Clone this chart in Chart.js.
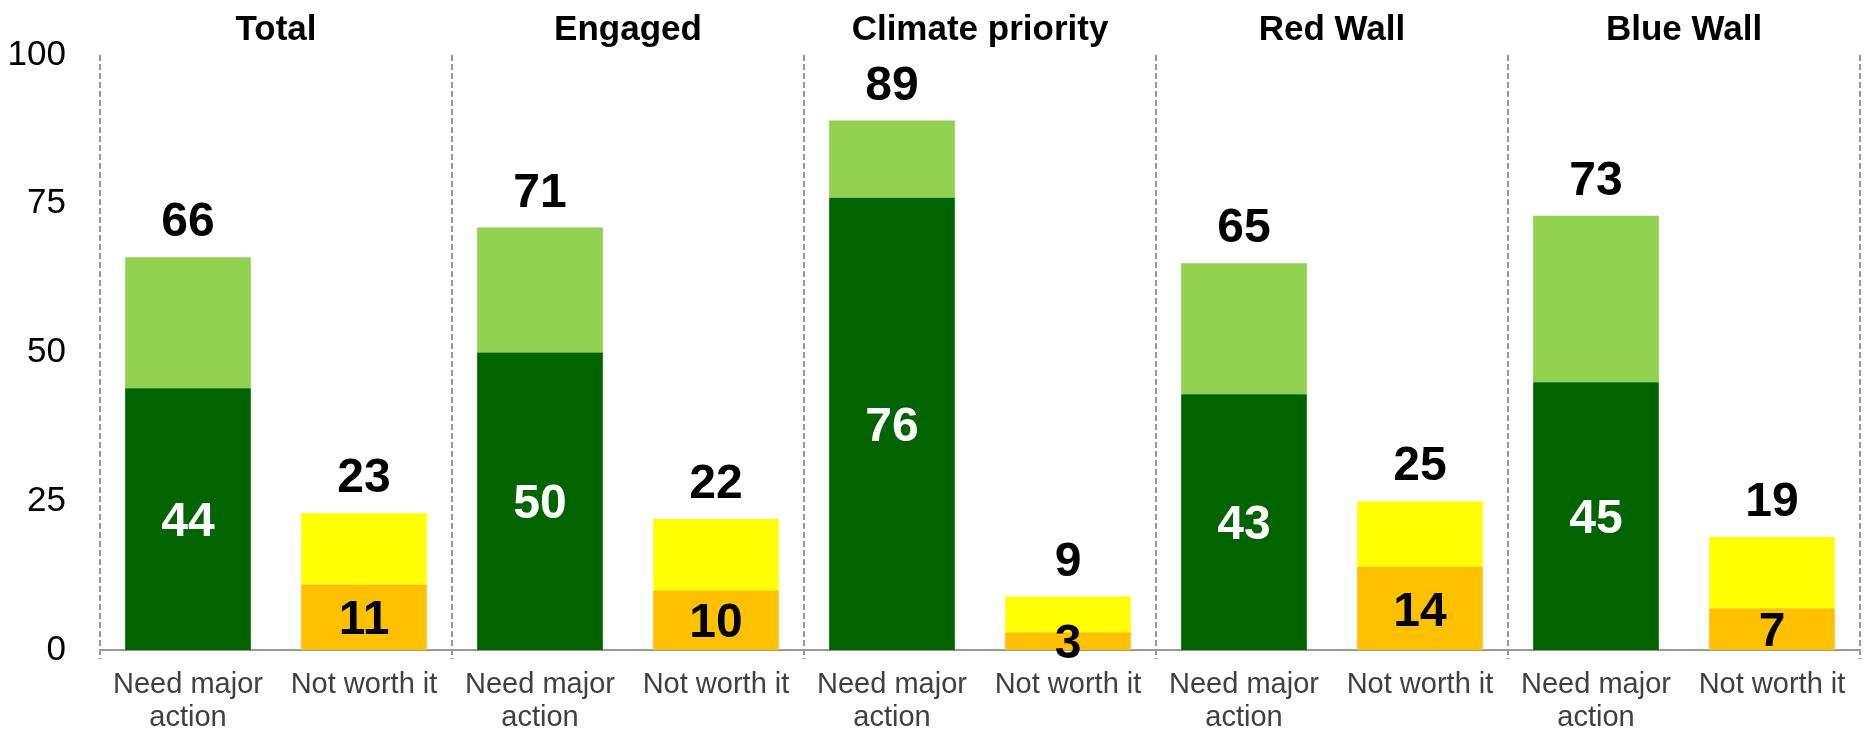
<!DOCTYPE html>
<html>
<head>
<meta charset="utf-8">
<script src="https://cdn.jsdelivr.net/npm/chart.js@4/dist/chart.umd.min.js"></script>
<style>
  html, body { margin: 0; padding: 0; background: #fff; }
  #wrap { width: 1866px; height: 733px; position: relative; }
</style>
</head>
<body>
<div id="wrap"><canvas id="c" width="1866" height="733"></canvas></div>
<script>
// ---- Data ----
const groups = ["Total", "Engaged", "Climate priority", "Red Wall", "Blue Wall"];
const responses = [["Need major", "action"], "Not worth it"];
const needMajorTotal  = [66, 71, 89, 65, 73];
const needMajorStrong = [44, 50, 76, 43, 45];
const notWorthTotal   = [23, 22, 9, 25, 19];
const notWorthStrong  = [11, 10, 3, 14, 7];
const yTicks = [0, 25, 50, 75, 100];

// ---- Build category table ----
const categories = [];
const strongVals = [];
const totalVals = [];
groups.forEach((g, i) => {
  categories.push(responses[0]);
  strongVals.push(needMajorStrong[i]);
  totalVals.push(needMajorTotal[i]);
  categories.push(responses[1]);
  strongVals.push(notWorthStrong[i]);
  totalVals.push(notWorthTotal[i]);
});
const restVals = totalVals.map((t, i) => t - strongVals[i]);

const DARK_GREEN = '#006400', LIGHT_GREEN = '#92D050', ORANGE = '#FFC000', YELLOW = '#FFFF00';
const bottomColors = categories.map((c, i) => i % 2 === 0 ? DARK_GREEN : ORANGE);
const topColors = categories.map((c, i) => i % 2 === 0 ? LIGHT_GREEN : YELLOW);
const FONT = '"Liberation Sans", Arial, Helvetica, sans-serif';

const overlayPlugin = {
  id: 'overlay',
  beforeDatasetsDraw(chart) {
    const ctx = chart.ctx, x = chart.scales.x, area = chart.chartArea;
    const half = (x.getPixelForValue(1) - x.getPixelForValue(0)) / 2;
    ctx.save();
    ctx.strokeStyle = '#999999';
    ctx.lineWidth = 2;
    ctx.setLineDash([6, 3]);
    for (let g = 0; g <= groups.length; g++) {
      const px = Math.round(x.getPixelForValue(g * 2) - half);
      ctx.beginPath();
      ctx.moveTo(px, area.top);
      ctx.lineTo(px, area.bottom + 9);
      ctx.stroke();
    }
    ctx.restore();
  },
  afterDatasetsDraw(chart) {
    const ctx = chart.ctx, x = chart.scales.x;
    const m0 = chart.getDatasetMeta(0), m1 = chart.getDatasetMeta(1);
    ctx.save();
    ctx.textAlign = 'center';
    ctx.textBaseline = 'alphabetic';
    // group titles
    ctx.font = 'bold 35px ' + FONT;
    ctx.fillStyle = '#000';
    groups.forEach((g, i) => {
      const cx = (x.getPixelForValue(i * 2) + x.getPixelForValue(i * 2 + 1)) / 2;
      ctx.fillText(g, cx, 27 + 0.358 * 35);
    });
    // data labels
    const fs = 48;
    ctx.font = 'bold ' + fs + 'px ' + FONT;
    categories.forEach((c, i) => {
      const top = m1.data[i];
      ctx.fillStyle = '#000';
      ctx.fillText(String(totalVals[i]), top.x, top.y - 38 + 0.358 * fs);
      const bot = m0.data[i];
      const cy = (bot.y + bot.base) / 2;
      ctx.fillStyle = i % 2 === 0 ? '#FFFFFF' : '#000000';
      ctx.fillText(String(strongVals[i]), bot.x, cy + 0.358 * fs);
    });
    ctx.restore();
  }
};

new Chart(document.getElementById('c'), {
  type: 'bar',
  data: {
    labels: categories,
    datasets: [
      { label: 'strong', data: strongVals, backgroundColor: bottomColors, borderWidth: 0,
        barPercentage: 0.714, categoryPercentage: 1.0 },
      { label: 'rest', data: restVals, backgroundColor: topColors, borderWidth: 0,
        barPercentage: 0.714, categoryPercentage: 1.0 }
    ]
  },
  options: {
    responsive: false,
    animation: false,
    events: [],
    layout: { padding: { top: 53, right: 6, left: 0, bottom: 0 } },
    plugins: { legend: { display: false }, tooltip: { enabled: false }, title: { display: false } },
    scales: {
      x: {
        stacked: true,
        grid: { display: false, drawTicks: false },
        border: { display: true, color: '#999999', width: 2 },
        ticks: { color: '#404040', font: { family: FONT, size: 29, lineHeight: 1.15 }, padding: 18, maxRotation: 0, autoSkip: false },
        afterFit(s) { s.height = 83; }
      },
      y: {
        stacked: true,
        min: 0, max: 100,
        afterBuildTicks(s) { s.ticks = yTicks.map(v => ({ value: v })); },
        grid: { display: false, drawTicks: false },
        border: { display: false },
        ticks: { color: '#000', font: { family: FONT, size: 35 }, padding: 34 },
        afterFit(s) { s.width = 100; }
      }
    }
  },
  plugins: [overlayPlugin]
});
</script>
</body>
</html>
